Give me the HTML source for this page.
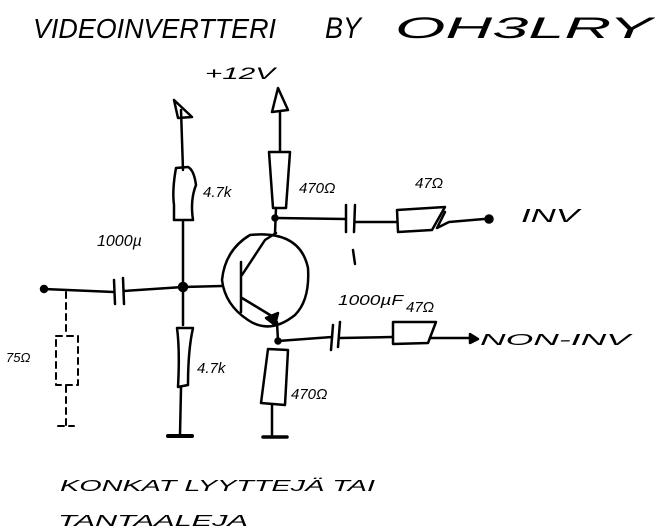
<!DOCTYPE html>
<html><head><meta charset="utf-8"><style>
html,body{margin:0;padding:0;background:#fff;width:655px;height:531px;overflow:hidden}
svg{display:block}
text{font-family:"Liberation Sans",sans-serif;fill:#000}
</style></head><body>
<svg width="655" height="531" viewBox="0 0 655 531" xmlns="http://www.w3.org/2000/svg">
<g fill="none" stroke="#000" stroke-width="2.5" stroke-linecap="round" stroke-linejoin="round">
<!-- left column -->
<path d="M181 110 L183 170"/>
<path d="M174 100 L178 118 L192 117 Z"/>
<path d="M176 168 Q172 190 174 205 L174 220 L193 220 Q190 200 196 185 Q194 170 188 167 Z"/>
<path d="M183 222 L183 325"/>
<path d="M177 328 L193 328 Q188 350 188 385 L178 387 Q180 350 177 328 Z"/>
<path d="M181 388 L180 435"/>
<path d="M168 436 L192 436" stroke-width="4"/>
<!-- input -->
<circle cx="44" cy="289" r="3" fill="#000"/>
<path d="M44 289 L114 292"/>
<path d="M114 280 L115 304 M123 278 L124 304"/>
<path d="M124 291 L183 287"/>
<circle cx="183" cy="287" r="4" fill="#000"/>
<path d="M183 287 L222 286"/>
<!-- dashed termination -->
<g stroke-dasharray="6 5" stroke-width="2">
<path d="M66 292 L66 335"/>
<path d="M56 336 L78 336 L78 385 L56 385 Z"/>
<path d="M66 386 L66 425 M58 426 L74 426"/>
</g>
<!-- right column -->
<path d="M280 112 L280 151"/>
<path d="M278 88 L272 112 L288 110 Z"/>
<path d="M269 152 L290 152 L286 208 L273 208 Z"/>
<path d="M276 208 L275 233"/>
<circle cx="275" cy="218" r="2.5" fill="#000"/>
<path d="M276 218 L345 219"/>
<path d="M346 205 L346 232 M355 205 L354 232"/>
<path d="M355 222 L397 222"/>
<path d="M397 210 L445 207 L432 230 L398 232 Z"/>
<path d="M445 212 L437 228 L449 222 L484 219"/>
<circle cx="489" cy="219" r="3.5" fill="#000"/>
<!-- transistor -->
<path d="M250 235 Q300 230 308 268 Q310 300 295 315 Q270 335 248 320 Q225 305 222 280 Q225 250 250 235"/>
<path d="M241 262 L241 312"/>
<path d="M242 275 L265 240 L276 233"/>
<path d="M242 298 L275 318"/>
<path d="M266 318 L278 313 L275 325 Z" fill="#000"/>
<path d="M277 322 L278 341"/>
<circle cx="278" cy="341" r="2.5" fill="#000"/>
<path d="M278 341 L332 337"/>
<path d="M333 325 L331 350 M340 322 L338 347"/>
<path d="M340 338 L392 337"/>
<path d="M393 322 L436 322 L428 343 L393 344 Z"/>
<path d="M430 338 L474 338"/>
<path d="M470 334 L478 339 L470 343 Z" fill="#000"/>
<path d="M353 250 L355 264"/>
<!-- emitter resistor -->
<path d="M268 349 L288 350 L285 405 L261 403 Z"/>
<path d="M272 405 L272 437"/>
<path d="M263 437 L287 437" stroke-width="3.5"/>
</g>
<g font-style="italic">
<text x="33" y="38" font-size="28" textLength="243" lengthAdjust="spacingAndGlyphs">VIDEOINVERTTERI</text>
<text x="325" y="38" font-size="30" textLength="36" lengthAdjust="spacingAndGlyphs">BY</text>
<text x="395" y="38" font-size="30" textLength="257" lengthAdjust="spacingAndGlyphs">OH3LRY</text>
<text x="205" y="79" font-size="17" textLength="70" lengthAdjust="spacingAndGlyphs">+12V</text>
<text x="203" y="197" font-size="15">4.7k</text>
<text x="299" y="193" font-size="15">470Ω</text>
<text x="415" y="188" font-size="15">47Ω</text>
<text x="521" y="222" font-size="18" textLength="58" lengthAdjust="spacingAndGlyphs">INV</text>
<text x="97" y="246" font-size="16">1000µ</text>
<text x="338" y="305" font-size="15" textLength="65" lengthAdjust="spacingAndGlyphs">1000µF</text>
<text x="406" y="312" font-size="15">47Ω</text>
<text x="480" y="345" font-size="16" textLength="150" lengthAdjust="spacingAndGlyphs">NON-INV</text>
<text x="6" y="362" font-size="13">75Ω</text>
<text x="197" y="373" font-size="15">4.7k</text>
<text x="291" y="399" font-size="15">470Ω</text>
<text x="60" y="491" font-size="16" textLength="315" lengthAdjust="spacingAndGlyphs">KONKAT LYYTTEJÄ TAI</text>
<text x="58" y="526" font-size="16" textLength="190" lengthAdjust="spacingAndGlyphs">TANTAALEJA</text>
</g>
</svg>
</body></html>
